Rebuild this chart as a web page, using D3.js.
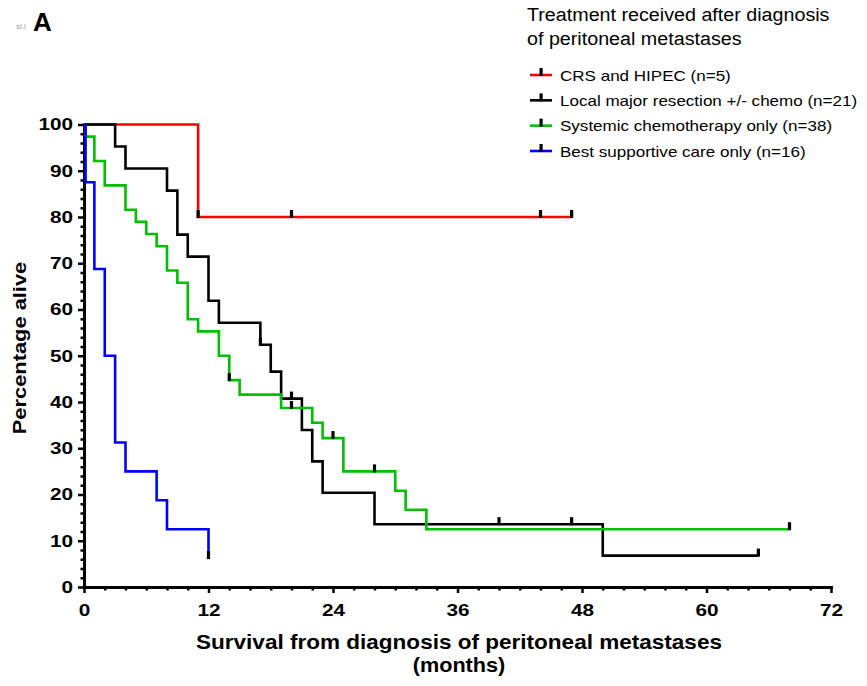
<!DOCTYPE html>
<html>
<head>
<meta charset="utf-8">
<script src="https://cdn.jsdelivr.net/npm/d3@7"></script>
<style>
  body { margin: 0; background: #fff; }
  svg { display: block; font-family: "Liberation Sans", Arial, Helvetica, sans-serif; }
</style>
</head>
<body>
<svg id="chart" width="867" height="686"></svg>
<script>
// Kaplan–Meier survival by treatment after diagnosis of peritoneal metastases.
// Each group: step times (months), percentage alive from that time on,
// last follow-up time, and censored observation times.
const groupLabels = [
  "CRS and HIPEC (n=5)",
  "Local major resection +/- chemo (n=21)",
  "Systemic chemotherapy only (n=38)",
  "Best supportive care only (n=16)"
];
const groupColors = ["#ff0000", "#000000", "#00c000", "#0000ff"];

const crsTimes = [0, 11];
const crsSurv = [100, 80];
const crsEnd = 47;
const crsCensor = [11, 20, 44, 47];

const resectionTimes = [0, 3, 4, 8, 9, 10, 12, 13, 17, 18, 19, 21, 22, 23, 28, 50];
const resectionSurv = [100, 95.24, 90.48, 85.71, 76.19, 71.43, 61.9, 57.14, 52.38, 46.56, 40.74, 33.95, 27.16, 20.37, 13.58, 6.79];
const resectionEnd = 65;
const resectionCensor = [17, 20, 40, 47, 65];

const chemoTimes = [0, 0.15, 1, 2, 4, 5, 6, 7, 8, 9, 10, 11, 13, 14, 15, 19, 22, 23, 25, 30, 31, 33];
const chemoSurv = [100, 97.37, 92.11, 86.84, 81.58, 78.95, 76.32, 73.68, 68.42, 65.79, 57.89, 55.26, 50, 44.74, 41.6, 38.7, 35.5, 32.2, 25, 20.8, 16.7, 12.5];
const chemoEnd = 68;
const chemoCensor = [14, 20, 24, 28, 68];

const bscTimes = [0, 0.15, 1, 2, 3, 4, 7, 8, 12];
const bscSurv = [100, 87.5, 68.75, 50, 31.25, 25, 18.75, 12.5, 6.25];
const bscEnd = 12;
const bscCensor = [12];

const xTickValues = [0, 12, 24, 36, 48, 60, 72];
const yTickValues = [0, 10, 20, 30, 40, 50, 60, 70, 80, 90, 100];

const groups = [
  { times: crsTimes, surv: crsSurv, end: crsEnd, censor: crsCensor },
  { times: resectionTimes, surv: resectionSurv, end: resectionEnd, censor: resectionCensor },
  { times: chemoTimes, surv: chemoSurv, end: chemoEnd, censor: chemoCensor },
  { times: bscTimes, surv: bscSurv, end: bscEnd, censor: bscCensor }
].map((g, i) => ({ ...g, label: groupLabels[i], color: groupColors[i] }));

const svg = d3.select("#chart");
const x = d3.scaleLinear().domain([0, 72]).range([84, 831]);
const y = d3.scaleLinear().domain([0, 100]).range([587, 124.5]);

// widen text horizontally by factor k
function stretch(sel, k) {
  sel.each(function () {
    const w = this.getComputedTextLength();
    this.setAttribute("textLength", w * k);
    this.setAttribute("lengthAdjust", "spacingAndGlyphs");
  });
}

function levelAt(g, t) {
  let v = g.surv[0];
  g.times.forEach((tt, i) => { if (tt <= t) v = g.surv[i]; });
  return v;
}

// ---- axes ----
const minorX = d3.range(0, 73, 2).filter(v => v % 12 !== 0);
const minorY = d3.range(0, 101, 2).filter(v => v % 10 !== 0);

const xAxisG = svg.append("g").attr("transform", `translate(0,${y(0)})`)
  .call(d3.axisBottom(x).tickValues(xTickValues).tickSize(6).tickSizeOuter(0).tickPadding(11));
svg.append("g").attr("transform", `translate(0,${y(0)})`)
  .call(d3.axisBottom(x).tickValues(minorX).tickSize(3.5).tickFormat(""))
  .call(g => g.select(".domain").remove());

const yAxisG = svg.append("g").attr("transform", `translate(${x(0)},0)`)
  .call(d3.axisLeft(y).tickValues(yTickValues).tickSize(6).tickSizeOuter(0).tickPadding(5));
svg.append("g").attr("transform", `translate(${x(0)},0)`)
  .call(d3.axisLeft(y).tickValues(minorY).tickSize(3.5).tickFormat(""))
  .call(g => g.select(".domain").remove());

svg.selectAll(".domain").attr("stroke", "#000").attr("stroke-width", 3).attr("stroke-linecap", "square");
svg.selectAll(".tick line").attr("stroke", "#000").attr("stroke-width", 2.5);
svg.selectAll(".tick text")
  .attr("fill", "#000")
  .style("font-family", '"Liberation Sans", Arial, sans-serif')
  .style("font-size", "17px")
  .style("font-weight", "bold")
  .call(stretch, 1.22);

// ---- survival curves ----
const stepLine = d3.line()
  .x(d => x(d[0]))
  .y(d => y(d[1]))
  .curve(d3.curveStepAfter);

groups.forEach(g => {
  const pts = g.times.map((t, i) => [t, g.surv[i]]);
  pts.push([g.end, g.surv[g.surv.length - 1]]);
  svg.append("path")
    .attr("d", stepLine(pts))
    .attr("fill", "none")
    .attr("stroke", g.color)
    .attr("stroke-width", 2.6)
    .attr("stroke-linejoin", "miter");
});

// censor ticks
groups.forEach(g => {
  svg.append("g").selectAll("rect")
    .data(g.censor)
    .join("rect")
    .attr("x", t => x(t) - 1.6)
    .attr("y", t => y(levelAt(g, t)) - 7)
    .attr("width", 3.2)
    .attr("height", 8)
    .attr("fill", "#000");
});

// ---- axis titles ----
svg.append("text")
  .attr("transform", `translate(26,348) rotate(-90)`)
  .attr("text-anchor", "middle")
  .style("font-size", "19px").style("font-weight", "bold")
  .text("Percentage alive")
  .call(stretch, 1.15);

svg.append("text")
  .attr("x", 459).attr("y", 649)
  .attr("text-anchor", "middle")
  .style("font-size", "21px").style("font-weight", "bold")
  .text("Survival from diagnosis of peritoneal metastases")
  .call(stretch, 1.073);

svg.append("text")
  .attr("x", 459).attr("y", 672)
  .attr("text-anchor", "middle")
  .style("font-size", "21px").style("font-weight", "bold")
  .text("(months)")
  .call(stretch, 1.03);

// ---- panel letter ----
svg.append("text")
  .attr("x", 16).attr("y", 29)
  .style("font-size", "8px").attr("fill", "#9a9a9a")
  .text("sl.l");
svg.append("text")
  .attr("x", 33).attr("y", 31)
  .style("font-size", "26px").style("font-weight", "bold")
  .text("A");

// ---- legend ----
const legend = svg.append("g");
legend.append("text").attr("x", 527).attr("y", 21)
  .style("font-size", "18px").text("Treatment received after diagnosis").call(stretch, 1.094);
legend.append("text").attr("x", 527).attr("y", 45)
  .style("font-size", "18px").text("of peritoneal metastases").call(stretch, 1.094);

const rowY = d3.scalePoint().domain(groupLabels).range([75, 151]);
const rows = legend.selectAll("g.row").data(groups).join("g")
  .attr("class", "row")
  .attr("transform", d => `translate(0,${rowY(d.label)})`);
rows.append("line")
  .attr("x1", 530).attr("x2", 552).attr("y1", 0).attr("y2", 0)
  .attr("stroke", d => d.color).attr("stroke-width", 2.6);
rows.append("rect")
  .attr("x", 539.5).attr("y", -7).attr("width", 3.2).attr("height", 8).attr("fill", "#000");
rows.append("text")
  .attr("x", 560).attr("y", 5.5)
  .style("font-size", "15px")
  .text(d => d.label)
  .call(stretch, 1.135);
</script>
</body>
</html>
